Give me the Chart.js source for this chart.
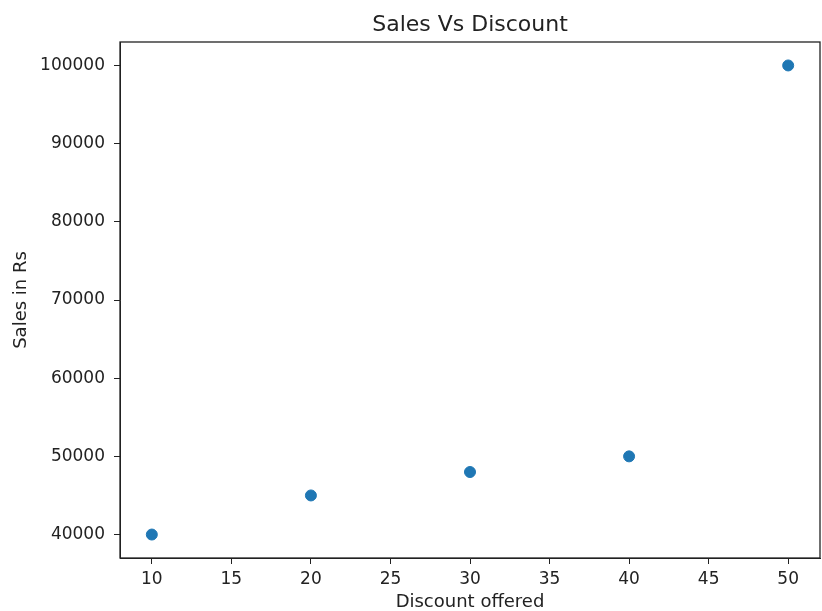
<!DOCTYPE html>
<html>
<head>
<meta charset="utf-8">
<script src="https://cdn.jsdelivr.net/npm/chart.js@4"></script>
<style>
  html, body { margin: 0; padding: 0; background: #fff; overflow: hidden; }
  canvas { display: block; }
</style>
</head>
<body>
<canvas id="sales_chart" width="822" height="611"></canvas>
<script>
const discount = [10, 20, 30, 40, 50];
const sales = [40000, 45000, 48000, 50000, 100000];
const x_ticks = [10, 15, 20, 25, 30, 35, 40, 45, 50];
const y_ticks = [40000, 50000, 60000, 70000, 80000, 90000, 100000];
const title_text = "Sales Vs Discount";
const x_label = "Discount offered";
const y_label = "Sales in Rs";

const points = discount.map((d, i) => ({ x: d, y: sales[i] }));

// matplotlib style frame + title centred over the plot area
const frame_plugin = {
    id: "frame",
    afterDraw(chart) {
        const { ctx, chartArea: a } = chart;
        ctx.save();
        ctx.strokeStyle = "#222";
        ctx.lineWidth = 1.3;
        ctx.strokeRect(a.left, a.top, a.right - a.left, a.bottom - a.top);
        ctx.fillStyle = "#222";
        ctx.font = "22px 'DejaVu Sans'";
        ctx.textAlign = "center";
        ctx.textBaseline = "middle";
        ctx.fillText(title_text, (a.left + a.right) / 2, 25);
        ctx.restore();
    },
};

const tick_font = { family: "DejaVu Sans", size: 17 };
const label_font = { family: "DejaVu Sans", size: 18, lineHeight: 1 };

function no_pad(s) {
    s.paddingLeft = 0;
    s.paddingRight = 0;
    s.paddingTop = 0;
    s.paddingBottom = 0;
}

const sales_config = {
    type: "scatter",
    data: {
        datasets: [
            {
                data: points,
                backgroundColor: "#1f77b4",
                borderColor: "#1f77b4",
                pointRadius: 5.5,
                pointHoverRadius: 5.5,
            },
        ],
    },
    options: {
        responsive: false,
        animation: false,
        layout: { autoPadding: false, padding: { top: 42, right: 2, left: 0, bottom: 0 } },
        plugins: { legend: { display: false }, tooltip: { enabled: false } },
        scales: {
            x: {
                type: "linear",
                min: 8,
                max: 52,
                afterBuildTicks: (s) => { s.ticks = x_ticks.map((v) => ({ value: v })); },
                afterFit: (s) => { s.height = 53; no_pad(s); },
                grid: { drawOnChartArea: false, tickLength: 6, color: "#222" },
                border: { color: "#222" },
                ticks: { color: "#222", font: tick_font, padding: 5, maxRotation: 0, autoSkip: false, callback: (v) => String(v) },
                title: { display: true, text: x_label, color: "#222", font: label_font, padding: { top: 0, bottom: 0 } },
            },
            y: {
                type: "linear",
                min: 37000,
                max: 103000,
                afterBuildTicks: (s) => { s.ticks = y_ticks.map((v) => ({ value: v })); },
                afterFit: (s) => { s.width = 120; no_pad(s); },
                grid: { drawOnChartArea: false, tickLength: 6, color: "#222" },
                border: { color: "#222" },
                ticks: { color: "#222", font: tick_font, padding: 9, autoSkip: false, callback: (v) => String(v) },
                title: { display: true, text: y_label, color: "#222", font: label_font, padding: { top: 12, bottom: 0 } },
            },
        },
    },
    plugins: [frame_plugin],
};

const sales_chart = new Chart(document.getElementById("sales_chart"), sales_config);
</script>
</body>
</html>
